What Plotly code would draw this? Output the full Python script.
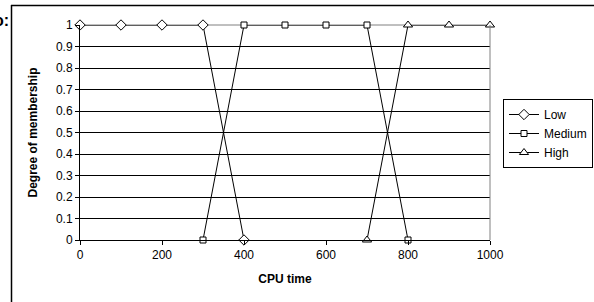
import plotly.graph_objects as go

# Data
low_x = [0, 100, 200, 300, 400]
low_y = [1, 1, 1, 1, 0]
med_x = [300, 400, 500, 600, 700, 800]
med_y = [0, 1, 1, 1, 1, 0]
high_x = [700, 800, 900, 1000]
high_y = [0, 1, 1, 1]
x_ticks = [0, 200, 400, 600, 800, 1000]
y_ticks = [0, 0.1, 0.2, 0.3, 0.4, 0.5, 0.6, 0.7, 0.8, 0.9, 1]
y_tick_labels = ["0", "0.1", "0.2", "0.3", "0.4", "0.5", "0.6", "0.7", "0.8", "0.9", "1"]

W, H = 594, 302
L, R, T, B = 80, 594 - 490, 25, 302 - 240
PW, PH = W - L - R, H - T - B

def px(xp):
    return (xp - L) / PW

def py(yp):
    return 1 - (yp - T) / PH

FONT = "Liberation Sans, Arial, sans-serif"

fig = go.Figure()
series = [
    ("Low", low_x, low_y, "diamond", 8),
    ("Medium", med_x, med_y, "square", 6),
    ("High", high_x, high_y, "triangle-up", 8),
]
for name, xs, ys, sym, sz in series:
    fig.add_trace(go.Scatter(
        x=xs, y=ys, name=name, mode="lines+markers",
        line=dict(color="black", width=1),
        marker=dict(symbol=sym, size=sz, color="white",
                    line=dict(color="black", width=1)),
        cliponaxis=False,
    ))

fig.update_layout(
    width=W, height=H,
    margin=dict(l=L, r=R, t=T, b=B, pad=0, autoexpand=False),
    paper_bgcolor="white", plot_bgcolor="white",
    font=dict(family=FONT, size=12, color="black"),
    showlegend=True,
    legend=dict(
        x=px(593), y=py(99), xanchor="right", yanchor="top",
        bordercolor="black", borderwidth=1, bgcolor="white",
        font=dict(family=FONT, size=12, color="black"),
        itemwidth=30, tracegroupgap=0,
    ),
    xaxis=dict(
        range=[0, 1000], tickvals=x_ticks, ticktext=[str(v) for v in x_ticks],
        showgrid=False, zeroline=False,
        showline=True, linecolor="black", linewidth=1, mirror=False,
        ticks="outside", ticklen=4, tickcolor="black",
        tickfont=dict(family=FONT, size=12),
        title=dict(text="<b>CPU time</b>", font=dict(family=FONT, size=12), standoff=13),
    ),
    yaxis=dict(
        range=[0, 1], tickvals=y_ticks, ticktext=y_tick_labels,
        showgrid=True, gridcolor="black", gridwidth=1,
        zeroline=False,
        showline=True, linecolor="black", linewidth=1,
        ticks="outside", ticklen=4, tickcolor="black",
        tickfont=dict(family=FONT, size=12),
        title=dict(text="<b>Degree of membership</b>", font=dict(family=FONT, size=12), standoff=15),
    ),
    shapes=[
        dict(type="line", xref="paper", yref="paper", x0=1, x1=1, y0=0, y1=1,
             line=dict(color="#808080", width=1)),
        dict(type="line", xref="paper", yref="paper", x0=0, x1=1, y0=1, y1=1,
             line=dict(color="#808080", width=1), layer="below"),
        # outer chart frame: top edge and left edge
        dict(type="line", xref="paper", yref="paper", x0=px(11), x1=px(594),
             y0=py(5.5), y1=py(5.5), line=dict(color="black", width=1.5), layer="above"),
        dict(type="line", xref="paper", yref="paper", x0=px(11.5), x1=px(11.5),
             y0=py(5), y1=py(302), line=dict(color="black", width=1.5), layer="above"),
    ],
    annotations=[
        dict(text="<b>o:</b>", xref="paper", yref="paper", x=px(11), y=py(10),
             xanchor="right", yanchor="top", showarrow=False,
             font=dict(family=FONT, size=16, color="black")),
    ],
)

fig.write_html(
    "out.html",
    config={"displayModeBar": False},
    post_script=(
        "document.body.style.margin='0';"
        "document.documentElement.style.overflow='hidden';"
        "window.scrollTo(0,0);"
    ),
)
